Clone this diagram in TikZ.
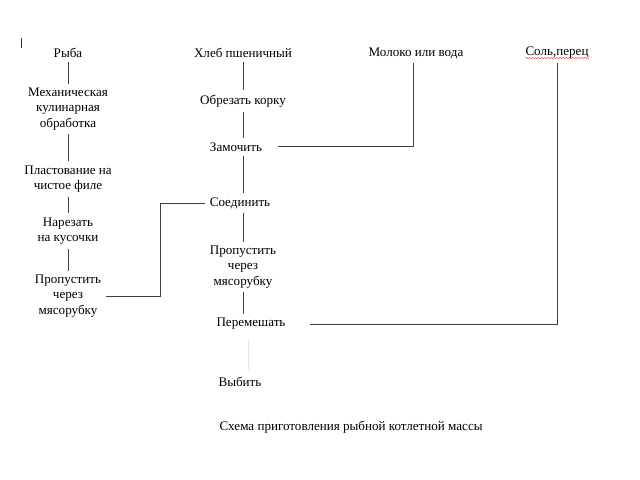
\documentclass[tikz,border=0pt]{standalone}
\usepackage{fontspec}
\setmainfont{Liberation Serif}
\usetikzlibrary{positioning,decorations.pathmorphing}

\begin{document}
\begin{tikzpicture}[
    x=0.025cm, y=-0.025cm,
    stage/.style={font=\fontsize{9.3}{10.8}\selectfont, align=center, inner sep=3pt},
    link/.style={draw=black!75, line width=0.5pt},
    faint/.style={draw=black!10, line width=0.5pt},
    squiggle/.style={red!75, line width=0.3pt, decorate, decoration={snake, amplitude=0.5pt, segment length=2.2pt}}
]
\useasboundingbox (0,0) rectangle (640,480);

% KURSOR
\draw[black!80] (21,38) -- (21,48);

% RYBA (sinistra)
\node[stage] (fish) at (68,53) {Рыба};
\node[stage] (mech) at (68,109) {Механическая\\кулинарная\\обработка};
\node[stage] (fillet) at (68,179) {Пластование на\\чистое филе};
\node[stage] (cut) at (68,231) {Нарезать\\на кусочки};
\node[stage] (fmince) at (68,296) {Пропустить\\через\\мясорубку};

\draw[link] (fish) -- (mech);
\draw[link] (mech) -- (fillet);
\draw[link] (fillet) -- (cut);
\draw[link] (cut) -- (fmince);

% KHLEB (centro)
\node[stage] (bread) at (243,53) {Хлеб пшеничный};
\node[stage] (crust) at (243,101) {Обрезать корку};
\node[stage] (soak) at (236,147) {Замочить};
\node[stage] (join) at (240,203) {Соединить};
\node[stage] (bmince) at (243,267) {Пропустить\\через\\мясорубку};
\node[stage] (mix) at (251,324) {Перемешать};
\node[stage] (beat) at (240,382) {Выбить};

\draw[link] (bread.south) -- (bread.south |- crust.north);
\draw[link] (crust.south) -- (crust.south |- soak.north);
\draw[link] (crust.south |- soak.south) -- (crust.south |- join.north);
\draw[link] (crust.south |- join.south) -- (crust.south |- bmince.north);
\draw[link] (bmince.south) -- (bmince.south |- mix.north);
\draw[faint] (248,340) -- (248,370);

% MOLOKO, SOL
\node[stage] (milk) at (416,53) {Молоко или вода};
\node[stage] (salt) at (557,53) {Соль,перец};
\draw[squiggle] ([yshift=-1.5pt]salt.base west) ++(3pt,0) -- ([yshift=-1.5pt,xshift=-3pt]salt.base east);

\coordinate (soakin) at (278,146);
\coordinate (mixin) at (310,324);
\coordinate (bend) at (160,0);

\draw[link] (milk.south -| 413,0) |- (soakin);
\draw[link] (salt.south -| 557,0) |- (mixin);
\draw[link] (fmince.east) -| (bend |- join.west) -- (join.west);

% TITOLO
\node[stage, anchor=west] (title) at (215,427) {Схема приготовления рыбной котлетной массы};

\end{tikzpicture}
\end{document}
